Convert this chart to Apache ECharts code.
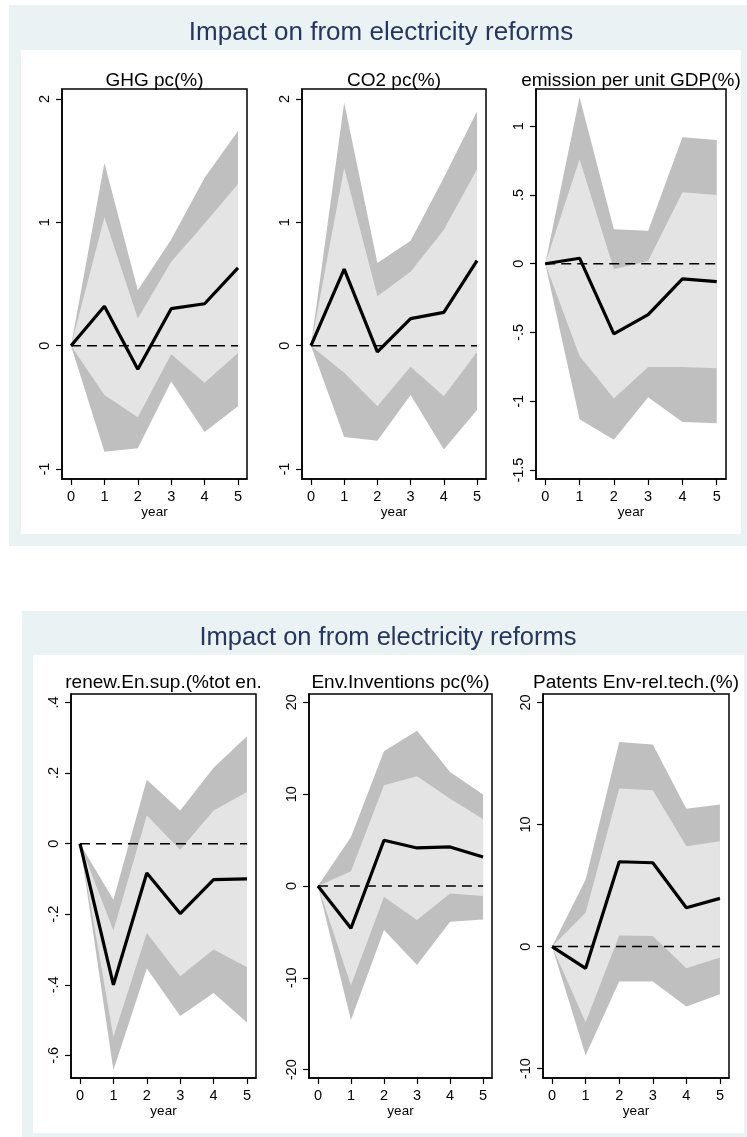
<!DOCTYPE html>
<html>
<head>
<meta charset="utf-8">
<script src="https://cdn.jsdelivr.net/npm/echarts@6/dist/echarts.min.js"></script>
<style>
  html, body { margin: 0; padding: 0; background: #fff; }
  #main { width: 747px; height: 1137px; }
</style>
</head>
<body>
<div id="main"></div>
<script>
// horizon (years after reform)
var years = [0, 1, 2, 3, 4, 5];

// GHG pc(%)
var ghgIrf  = [0, 0.32, -0.19, 0.30, 0.34, 0.63];
var ghgHi90 = [0, 1.48, 0.45, 0.86, 1.36, 1.74];
var ghgHi68 = [0, 1.04, 0.22, 0.68, 0.99, 1.31];
var ghgLo68 = [0, -0.40, -0.58, -0.07, -0.30, -0.06];
var ghgLo90 = [0, -0.86, -0.83, -0.29, -0.70, -0.49];

// CO2 pc(%)
var co2Irf  = [0, 0.62, -0.05, 0.22, 0.27, 0.69];
var co2Hi90 = [0, 1.97, 0.67, 0.85, 1.36, 1.90];
var co2Hi68 = [0, 1.44, 0.40, 0.60, 0.94, 1.43];
var co2Lo68 = [0, -0.22, -0.49, -0.17, -0.41, -0.05];
var co2Lo90 = [0, -0.74, -0.77, -0.40, -0.84, -0.52];

// emission per unit GDP(%)
var emIrf  = [0, 0.04, -0.51, -0.37, -0.11, -0.13];
var emHi90 = [0, 1.21, 0.25, 0.24, 0.92, 0.90];
var emHi68 = [0, 0.76, -0.04, 0.02, 0.52, 0.50];
var emLo68 = [0, -0.67, -0.98, -0.75, -0.75, -0.76];
var emLo90 = [0, -1.13, -1.28, -0.97, -1.15, -1.16];

// renew.En.sup.(%tot en.
var reIrf  = [0, -0.40, -0.083, -0.198, -0.102, -0.10];
var reHi90 = [0, -0.159, 0.181, 0.094, 0.215, 0.304];
var reHi68 = [0, -0.246, 0.08, -0.017, 0.094, 0.146];
var reLo68 = [0, -0.548, -0.253, -0.376, -0.30, -0.35];
var reLo90 = [0, -0.642, -0.354, -0.488, -0.423, -0.507];

// Env.Inventions pc(%)
var invIrf  = [0, -4.6, 4.98, 4.14, 4.25, 3.16];
var invHi90 = [0, 5.34, 14.67, 16.9, 12.4, 9.95];
var invHi68 = [0, 1.6, 10.97, 11.95, 9.5, 7.3];
var invLo68 = [0, -10.8, -1.2, -3.7, -0.83, -1.09];
var invLo90 = [0, -14.6, -4.8, -8.6, -3.9, -3.66];

// Patents Env-rel.tech.(%)
var patIrf  = [0, -1.78, 6.95, 6.87, 3.19, 3.95];
var patHi90 = [0, 5.5, 16.75, 16.55, 11.3, 11.65];
var patHi68 = [0, 2.78, 12.95, 12.8, 8.23, 8.64];
var patLo68 = [0, -6.2, 0.92, 0.87, -1.78, -0.9];
var patLo90 = [0, -8.9, -2.86, -2.86, -4.9, -3.9];

var mainTitle = 'Impact on from electricity reforms';
var plotTitles = ['GHG pc(%)', 'CO2 pc(%)', 'emission per unit GDP(%)',
                  'renew.En.sup.(%tot en.', 'Env.Inventions pc(%)', 'Patents Env-rel.tech.(%)'];
var yTicks = [
  [-1, 0, 1, 2],
  [-1, 0, 1, 2],
  [-1.5, -1, -0.5, 0, 0.5, 1],
  [-0.6, -0.4, -0.2, 0, 0.2, 0.4],
  [-20, -10, 0, 10, 20],
  [-10, 0, 10, 20]
];

var plots = [
  {irf: ghgIrf, hi90: ghgHi90, hi68: ghgHi68, lo68: ghgLo68, lo90: ghgLo90},
  {irf: co2Irf, hi90: co2Hi90, hi68: co2Hi68, lo68: co2Lo68, lo90: co2Lo90},
  {irf: emIrf,  hi90: emHi90,  hi68: emHi68,  lo68: emLo68,  lo90: emLo90},
  {irf: reIrf,  hi90: reHi90,  hi68: reHi68,  lo68: reLo68,  lo90: reLo90},
  {irf: invIrf, hi90: invHi90, hi68: invHi68, lo68: invLo68, lo90: invLo90},
  {irf: patIrf, hi90: patHi90, hi68: patHi68, lo68: patLo68, lo90: patLo90}
];

// layout (pixels) and axis extents
var boxes = [
  {left: 62,  top: 89,  width: 185, height: 390, ymin: -1.08,  ymax: 2.08},
  {left: 302, top: 89,  width: 184, height: 390, ymin: -1.08,  ymax: 2.08},
  {left: 536, top: 89,  width: 190, height: 390, ymin: -1.565, ymax: 1.27},
  {left: 71,  top: 694, width: 185, height: 384, ymin: -0.664, ymax: 0.424},
  {left: 309, top: 694, width: 183, height: 384, ymin: -20.9,  ymax: 20.9},
  {left: 543, top: 694, width: 186, height: 384, ymin: -10.76, ymax: 20.69}
];

var FONT = '"Liberation Sans", Arial, Helvetica, sans-serif';
var TITLE_COLOR = '#26365f';
var BG = '#eaf2f3';

function stataNum(v) {
  // stata style: .5 / -.5
  return String(v).replace(/^(-?)0\./, '$1.');
}

function band(i, lo, hi, color) {
  return {
    type: 'custom',
    xAxisIndex: i,
    yAxisIndex: i,
    silent: true,
    data: years.map(function (x, k) { return [x, lo[k], hi[k]]; }),
    encode: {x: 0, y: [1, 2]},
    renderItem: function (params, api) {
      if (params.dataIndex !== 0) return null;
      var pts = [];
      for (var k = 0; k < years.length; k++) pts.push(api.coord([years[k], hi[k]]));
      for (var k = years.length - 1; k >= 0; k--) pts.push(api.coord([years[k], lo[k]]));
      return {type: 'polygon', shape: {points: pts}, style: {fill: color}};
    }
  };
}

var grid = [], xAxis = [], yAxis = [], series = [], title = [];

boxes.forEach(function (b, i) {
  grid.push({
    left: b.left, top: b.top, width: b.width, height: b.height,
    show: true, borderColor: '#000', borderWidth: 1.5, backgroundColor: '#fff',
    containLabel: false, outerBoundsMode: 'none'
  });
  xAxis.push({
    type: 'value', gridIndex: i, min: -0.27, max: 5.27,
    name: 'year', nameLocation: 'middle', nameGap: 25,
    nameTextStyle: {fontFamily: FONT, fontSize: 13.5, color: '#000'},
    splitLine: {show: false},
    axisLine: {show: true, onZero: false, lineStyle: {color: '#000', width: 1.5}},
    axisTick: {show: true, length: 6, lineStyle: {color: '#000', width: 1.2}, customValues: years},
    axisLabel: {fontFamily: FONT, fontSize: 14.5, color: '#000', margin: 10, customValues: years}
  });
  yAxis.push({
    type: 'value', gridIndex: i, min: b.ymin, max: b.ymax,
    splitLine: {show: false},
    axisLine: {show: true, onZero: false, lineStyle: {color: '#000', width: 1.5}},
    axisTick: {show: true, length: 6, lineStyle: {color: '#000', width: 1.2}, customValues: yTicks[i]},
    axisLabel: {
      fontFamily: FONT, fontSize: 14.5, color: '#000', rotate: 90, margin: 10,
      customValues: yTicks[i],
      formatter: function (v) { return stataNum(v); }
    }
  });
  title.push({
    text: plotTitles[i],
    left: b.left + b.width / 2, top: i < 3 ? 71 : 673,
    textAlign: 'center', padding: 0,
    textStyle: {fontFamily: FONT, fontSize: 19, fontWeight: 'normal', color: '#000'}
  });

  var p = plots[i];
  series.push(band(i, p.lo90, p.hi90, '#bfbfbf'));
  series.push(band(i, p.lo68, p.hi68, '#e4e4e4'));
  series.push({
    type: 'line', xAxisIndex: i, yAxisIndex: i, silent: true, symbol: 'none',
    data: years.map(function (x) { return [x, 0]; }),
    lineStyle: {color: '#000', width: 1.5, type: [10, 6]}
  });
  series.push({
    type: 'line', xAxisIndex: i, yAxisIndex: i, silent: true, symbol: 'none',
    data: years.map(function (x, k) { return [x, p.irf[k]]; }),
    lineStyle: {color: '#000', width: 3.2}
  });
});

title.push({
  text: mainTitle, left: 381, top: 20, textAlign: 'center', padding: 0,
  textStyle: {fontFamily: FONT, fontSize: 26, fontWeight: 'normal', color: TITLE_COLOR}
});
title.push({
  text: mainTitle, left: 388, top: 625, textAlign: 'center', padding: 0,
  textStyle: {fontFamily: FONT, fontSize: 25.5, fontWeight: 'normal', color: TITLE_COLOR}
});

var chart = echarts.init(document.getElementById('main'), null, {renderer: 'canvas'});
chart.setOption({
  animation: false,
  backgroundColor: '#fff',
  graphic: [
    // panel backgrounds
    {type: 'rect', z: -10, silent: true, shape: {x: 9, y: 5, width: 760, height: 541}, style: {fill: BG}},
    {type: 'rect', z: -9, silent: true, shape: {x: 21, y: 50, width: 720, height: 484}, style: {fill: '#fff'}},
    {type: 'rect', z: -10, silent: true, shape: {x: 22, y: 611, width: 760, height: 540}, style: {fill: BG}},
    {type: 'rect', z: -9, silent: true, shape: {x: 33, y: 655, width: 711, height: 478}, style: {fill: '#fff'}}
  ],
  title: title,
  grid: grid,
  xAxis: xAxis,
  yAxis: yAxis,
  series: series
});
</script>
</body>
</html>
